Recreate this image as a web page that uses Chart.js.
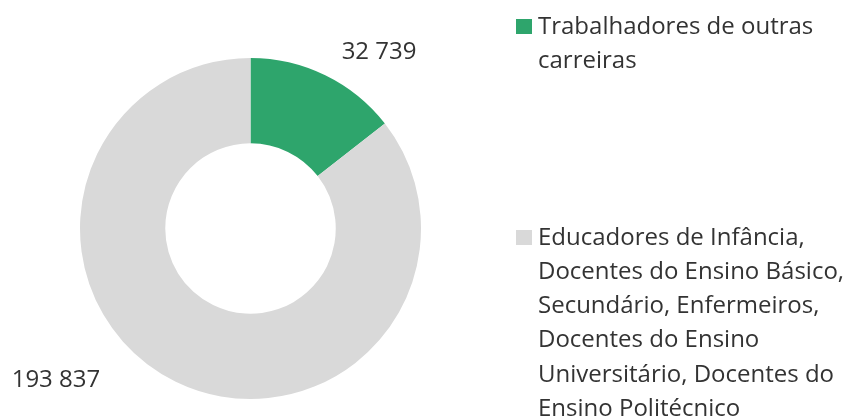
<!DOCTYPE html>
<html>
<head>
<meta charset="utf-8">
<script src="https://cdn.jsdelivr.net/npm/chart.js@4"></script>
<style>
  body { margin: 0; background: #fff; }
  #wrap { position: relative; width: 850px; height: 418px; overflow: hidden; }
  #legend { position: absolute; left: 516px; top: 0; width: 334px;
            font-family: "Open Sans", sans-serif; font-size: 24px; line-height: 34.3px; color: #333;
            white-space: nowrap; }
  .item { position: absolute; left: 0; padding-left: 22px; }
  .box { position: absolute; left: 0; top: 11px; width: 16px; height: 15px; }
</style>
</head>
<body>
<div id="wrap">
  <canvas id="donut" width="850" height="418"></canvas>
  <div id="legend"></div>
</div>
<script>
/* values */
const categories = [
    "Trabalhadores de outras carreiras",
    "Educadores de Infância, Docentes do Ensino Básico, Secundário, Enfermeiros, Docentes do Ensino Universitário, Docentes do Ensino Politécnico"
];
const counts = [32739, 193837];
const valueLabels = ["32 739", "193 837"];
const colours = ["#2ea56c", "#d9d9d9"];
const legendLines = [
    ["Trabalhadores de outras", "carreiras"],
    ["Educadores de Infância,", "Docentes do Ensino Básico,", "Secundário, Enfermeiros,", "Docentes do Ensino", "Universitário, Docentes do", "Ensino Politécnico"]
];
const legendTops = [8, 218.5];

/* value labels outside the ring, offset from the centre in units of the outer radius */
const labelPlacer = {
    id: 'labelPlacer',
    afterDatasetsDraw(chart) {
        const ctx = chart.ctx;
        const arcs = chart.getDatasetMeta(0).data;
        const offs = [[0.754, -0.994], [-1.141, 0.930]];
        ctx.save();
        ctx.font = '24px "Open Sans", sans-serif';
        ctx.fillStyle = '#333';
        ctx.textAlign = 'center';
        ctx.textBaseline = 'alphabetic';
        arcs.forEach(function(arc, i) {
            const r = arc.outerRadius;
            ctx.fillText(valueLabels[i], arc.x + offs[i][0] * r, arc.y + offs[i][1] * r);
        });
        ctx.restore();
    }
};

new Chart(document.getElementById("donut").getContext("2d"), {
    type: 'doughnut',
    data: {
        labels: categories,
        datasets: [{
            data: counts,
            backgroundColor: colours,
            borderWidth: 0
        }]
    },
    options: {
        responsive: false,
        animation: false,
        cutout: '50%',
        layout: { padding: { left: 80, right: 429, top: 58, bottom: 19 } },
        plugins: { legend: { display: false }, tooltip: { enabled: false } }
    },
    plugins: [labelPlacer]
});

/* html legend, wrapped like the original */
var legend = document.getElementById("legend");
for (var i = 0; i < categories.length; i++) {
    var item = document.createElement("div");
    item.className = "item";
    item.style.top = legendTops[i] + "px";
    item.innerHTML = '<span class="box" style="background:' + colours[i] + '"></span>' + legendLines[i].join("<br>");
    legend.appendChild(item);
}
</script>
</body>
</html>
